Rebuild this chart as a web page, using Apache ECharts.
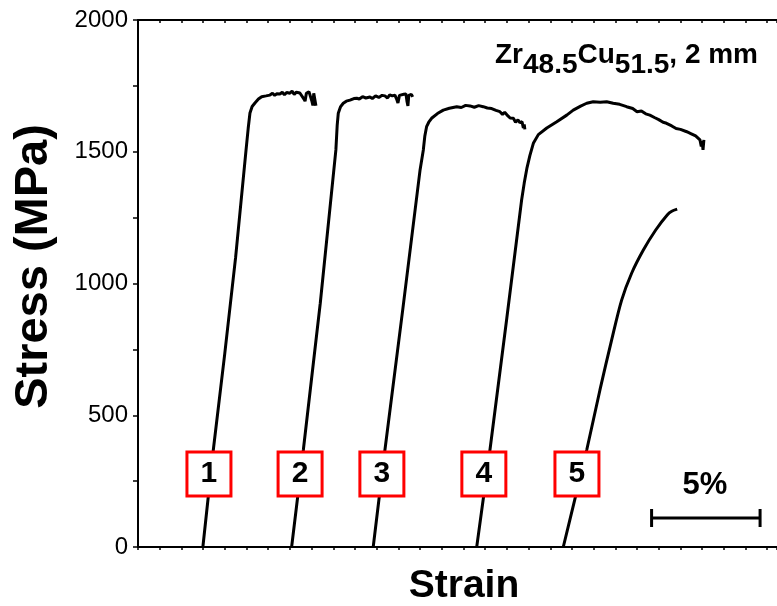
<!DOCTYPE html>
<html><head><meta charset="utf-8">
<script src="https://cdn.jsdelivr.net/npm/echarts@6/dist/echarts.min.js"></script>
<style>html,body{margin:0;padding:0;background:#fff}#c{width:777px;height:606px}</style>
</head><body><div id="c"></div>
<script>
// Strain (%, offset axis) vs Stress (MPa)
const curve1 = [[2.99,0],[3.47,368],[4.0,735],[4.5,1100],[4.98,1507],[5.08,1590],[5.16,1647],[5.26,1672],[5.39,1685],[5.55,1700],[5.70,1709],[5.9,1712],[6.08,1715],[6.2,1722],[6.3,1714],[6.4,1720],[6.54,1719],[6.65,1726],[6.75,1716],[6.85,1725],[7.0,1722],[7.1,1730],[7.2,1718],[7.3,1726],[7.46,1723],[7.55,1728],[7.65,1700],[7.7,1692],[7.76,1722],[7.88,1728],[7.96,1724],[8.02,1690],[8.06,1676],[8.1,1722],[8.16,1724],[8.2,1675]];
const curve2 = [[7.08,0],[7.62,368],[8.4,925],[9.12,1507],[9.18,1600],[9.23,1646],[9.33,1670],[9.46,1684],[9.6,1692],[9.77,1696],[9.95,1702],[10.08,1703],[10.2,1700],[10.35,1709],[10.5,1704],[10.69,1708],[10.8,1702],[10.95,1712],[11.1,1706],[11.25,1714],[11.38,1712],[11.5,1704],[11.6,1716],[11.72,1712],[11.84,1715],[11.92,1700],[11.98,1685],[12.05,1714],[12.12,1715],[12.25,1718],[12.35,1719],[12.4,1690],[12.44,1674],[12.48,1714],[12.53,1715],[12.6,1718],[12.66,1708]];
const curve3 = [[10.84,0],[11.38,368],[12.2,900],[13.0,1431],[13.15,1507],[13.22,1560],[13.30,1595],[13.4,1612],[13.53,1627],[13.8,1645],[14.07,1658],[14.35,1665],[14.69,1671],[14.9,1668],[15.1,1676],[15.3,1674],[15.5,1669],[15.7,1675],[15.91,1671],[16.1,1666],[16.3,1664],[16.5,1657],[16.68,1652],[16.8,1642],[16.9,1650],[17.05,1636],[17.15,1628],[17.3,1627],[17.4,1612],[17.51,1621],[17.6,1610],[17.7,1614],[17.76,1590],[17.8,1604],[17.83,1585]];
const curve4 = [[15.61,0],[16.22,368],[17.0,870],[17.68,1317],[17.80,1381],[17.93,1440],[18.06,1485],[18.22,1532],[18.45,1565],[18.84,1590],[19.30,1614],[19.76,1639],[20.06,1658],[20.4,1673],[20.68,1684],[20.98,1690],[21.3,1688],[21.60,1690],[21.9,1684],[22.2,1680],[22.52,1671],[22.8,1664],[23.0,1652],[23.2,1655],[23.4,1644],[23.59,1639],[23.8,1630],[24.0,1622],[24.2,1612],[24.36,1608],[24.6,1598],[24.8,1588],[25.0,1585],[25.29,1576],[25.5,1568],[25.7,1560],[25.90,1545],[25.96,1520],[26.0,1540],[26.04,1507],[26.08,1545]];
const curve5 = [[19.60,0],[20.13,180],[20.68,368],[21.29,596],[21.83,786],[22.29,937],[22.75,1039],[23.29,1127],[23.86,1203],[24.39,1260],[24.6,1274],[24.85,1282]];
const sampleLabels = ['1','2','3','4','5'];
const sampleLabelX = [3.27,7.47,11.24,15.94,20.23];
const sampleLabelY = 277;
const scaleBar = [[23.67,110],[28.67,110]];
const scaleBarLabel = '5%';
const scaleBarLabelPos = [26.13,235];
const yTicks = [0,500,1000,1500,2000];

const font = 'Liberation Sans, Arial, sans-serif';
const chart = echarts.init(document.getElementById('c'));
const lineSeries = (d, smooth) => ({type:'line', data:d, showSymbol:false, smooth:smooth||false,
  lineStyle:{color:'#000', width:3}, z:2, animation:false});
chart.setOption({
  animation:false,
  backgroundColor:'#fff',
  title:{
    left:490, top:36,
    text:'{n|Zr}{s|48.5}{n|Cu}{s|51.5}{n|, 2 mm}',
    textStyle:{rich:{
      n:{fontFamily:font, fontWeight:'bold', fontSize:28, lineHeight:28, verticalAlign:'top', color:'#000'},
      s:{fontFamily:font, fontWeight:'bold', fontSize:28, lineHeight:48, verticalAlign:'middle', color:'#000'}
    }}
  },
  grid:{left:138, top:20, right:0, bottom:59, containLabel:false, outerBoundsMode:'none'},
  xAxis:[{
    type:'value', min:0, max:29.45, interval:1,
    name:'Strain', nameLocation:'middle', nameGap:20,
    nameTextStyle:{fontFamily:font, fontWeight:'bold', fontSize:39, color:'#000', padding:[0,0,0,13]},
    axisLine:{show:true, onZero:false, lineStyle:{color:'#000', width:2}},
    axisTick:{show:true, inside:false, length:3, lineStyle:{color:'#000', width:1.5}},
    axisLabel:{show:false}, splitLine:{show:false}
  },{
    type:'value', position:'top', min:0, max:29.45, interval:1,
    axisLine:{show:true, onZero:false, lineStyle:{color:'#000', width:2}},
    axisTick:{show:true, inside:true, length:3, lineStyle:{color:'#000', width:1.5}},
    axisLabel:{show:false}, splitLine:{show:false}
  }],
  yAxis:{
    type:'value', min:yTicks[0], max:yTicks[yTicks.length-1], interval:500,
    name:'Stress (MPa)', nameLocation:'middle', nameGap:80, nameRotate:90,
    nameTextStyle:{fontFamily:font, fontWeight:'bold', fontSize:47, color:'#000', padding:[0,0,0,34]},
    axisLine:{show:true, onZero:false, lineStyle:{color:'#000', width:2}},
    axisTick:{show:true, inside:false, length:5, lineStyle:{color:'#000', width:1.5}},
    minorTick:{show:true, splitNumber:2, length:5, lineStyle:{color:'#000', width:1.5}},
    axisLabel:{fontFamily:font, fontSize:24, color:'#000', margin:10, formatter:v=>String(v)},
    splitLine:{show:false}
  },
  series:[
    lineSeries(curve1), lineSeries(curve2), lineSeries(curve3), lineSeries(curve4), lineSeries(curve5, 0.3),
    {type:'scatter', symbol:'rect', symbolSize:[44,44], z:5,
      data: sampleLabels.map((t,i)=>({name:t, value:[sampleLabelX[i], sampleLabelY]})),
      itemStyle:{color:'#fff', borderColor:'#ff0000', borderWidth:3, opacity:1},
      label:{show:true, position:'inside', formatter:p=>p.name, fontFamily:font, fontWeight:'bold', fontSize:30, color:'#000'}
    },
    {type:'line', data:scaleBar, symbol:'rect', symbolSize:[3,18], showSymbol:true,
      itemStyle:{color:'#000'}, lineStyle:{color:'#000', width:3}, z:4},
    {type:'scatter', data:[{name:scaleBarLabel, value:scaleBarLabelPos}], symbolSize:1, z:6,
      itemStyle:{color:'#fff', opacity:1},
      label:{show:true, position:'inside', formatter:p=>p.name, fontFamily:font, fontWeight:'bold', fontSize:31, color:'#000', opacity:1}}
  ]
});
</script></body></html>
